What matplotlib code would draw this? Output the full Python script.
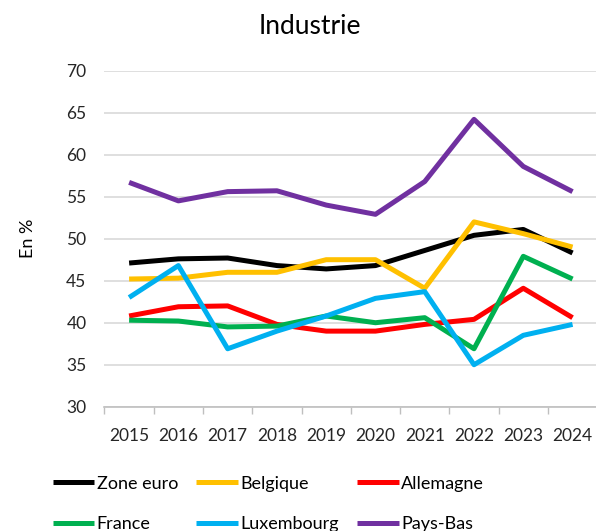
import matplotlib
matplotlib.use('Agg')
import matplotlib.pyplot as plt
import numpy as np

plt.rcParams['font.family'] = ['Lato', 'DejaVu Sans']

years = ['2015', '2016', '2017', '2018', '2019', '2020', '2021', '2022', '2023', '2024']
zone_euro = [47.1, 47.6, 47.7, 46.8, 46.4, 46.8, 48.6, 50.4, 51.1, 48.3]
belgique = [45.2, 45.3, 46.0, 46.0, 47.5, 47.5, 44.1, 52.0, 50.6, 49.0]
allemagne = [40.8, 41.9, 42.0, 39.8, 39.0, 39.0, 39.8, 40.4, 44.1, 40.6]
france = [40.3, 40.2, 39.5, 39.6, 40.8, 40.0, 40.6, 36.9, 47.9, 45.2]
luxembourg = [43.0, 46.8, 36.9, 39.0, 40.8, 42.9, 43.7, 35.0, 38.5, 39.8]
pays_bas = [56.7, 54.5, 55.6, 55.7, 54.0, 52.9, 56.8, 64.2, 58.6, 55.6]

series = [
    ('Zone euro', zone_euro, '#000000'),
    ('Belgique', belgique, '#FFC000'),
    ('Allemagne', allemagne, '#FF0000'),
    ('France', france, '#00B050'),
    ('Luxembourg', luxembourg, '#00B0F0'),
    ('Pays-Bas', pays_bas, '#7030A0'),
]

fig = plt.figure(figsize=(5.96, 5.31), dpi=100)
ax = fig.add_axes([0.1753, 0.234, 0.8267, 0.633])

x = np.arange(len(years))
lines = []
for name, vals, col in series:
    ln, = ax.plot(x, vals, color=col, lw=3.6, label=name, solid_capstyle='butt', zorder=3)
    lines.append(ln)

ax.set_ylim(30, 70)
ax.set_yticks(np.arange(30, 71, 5))
ax.set_xlim(-0.5, len(years) - 0.5)
ax.set_xticks(np.arange(-0.5, len(years), 1.0))
ax.set_xticklabels([])
ax.set_xticks(x, minor=True)
ax.set_xticklabels(years, minor=True)
ax.tick_params(axis='x', which='major', length=5, color='#BFBFBF', width=1)
ax.tick_params(axis='x', which='minor', length=0, pad=15, labelsize=12.5, labelcolor='#262626')
ax.tick_params(axis='y', length=0, pad=13, labelsize=12.5, labelcolor='#262626')
ax.grid(axis='y', color='#D9D9D9', lw=1.2, zorder=0)
for s in ['top', 'right', 'left']:
    ax.spines[s].set_visible(False)
ax.spines['bottom'].set_color('#BFBFBF')
ax.spines['bottom'].set_linewidth(1.2)

ax.set_ylabel('En %', fontsize=13, labelpad=22)
fig.text(0.52, 0.95, 'Industrie', ha='center', va='center', fontsize=19)

# legend filled row by row like the original
order = [0, 3, 1, 4, 2, 5]
fig.legend([lines[i] for i in order], [series[i][0] for i in order],
           loc='upper left', bbox_to_anchor=(0.076, 0.118), ncol=3, frameon=False,
           fontsize=13, handlelength=2.3, handletextpad=0.15, columnspacing=1.0,
           labelspacing=1.35, borderaxespad=0)

fig.savefig('out.png', dpi=100)
